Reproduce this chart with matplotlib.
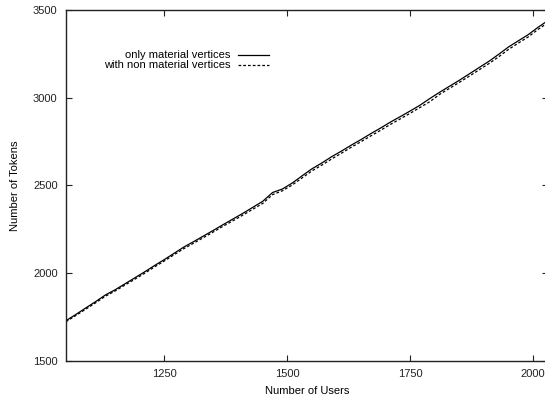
import numpy as np
import matplotlib
matplotlib.use("Agg")
import matplotlib.pyplot as plt
from matplotlib.lines import Line2D

users = [1050, 1070, 1090, 1110, 1130, 1150, 1170, 1190, 1210, 1230,
         1250, 1270, 1290, 1310, 1330, 1350, 1370, 1390, 1410, 1430,
         1450, 1470, 1490, 1510, 1530, 1550, 1570, 1590, 1610, 1630,
         1650, 1670, 1690, 1710, 1730, 1750, 1770, 1790, 1810, 1830,
         1850, 1870, 1890, 1910, 1930, 1950, 1970, 1990, 2010, 2030]

only_material = [1730, 1765, 1802, 1838, 1876, 1906, 1940, 1974, 2008, 2044,
                 2078, 2114, 2150, 2181, 2213, 2245, 2278, 2310, 2342, 2376,
                 2410, 2460, 2480, 2514, 2555, 2595, 2628, 2664, 2696, 2730,
                 2762, 2796, 2828, 2862, 2893, 2925, 2958, 2996, 3032, 3066,
                 3100, 3136, 3172, 3208, 3248, 3290, 3325, 3360, 3402, 3440]

with_non_material = [1724, 1759, 1795, 1831, 1869, 1899, 1933, 1966, 2000, 2036,
                     2070, 2106, 2141, 2172, 2204, 2236, 2269, 2300, 2332, 2365,
                     2398, 2448, 2470, 2503, 2543, 2583, 2616, 2651, 2684, 2718,
                     2750, 2783, 2815, 2849, 2880, 2912, 2945, 2978, 3020, 3054,
                     3088, 3123, 3159, 3195, 3234, 3276, 3312, 3347, 3390, 3428]

series_labels = ["only material vertices", "with non material vertices"]
x_ticks = [1250, 1500, 1750, 2000]
y_ticks = [1500, 2000, 2500, 3000, 3500]

plt.rcParams['font.family'] = ['Liberation Sans', 'DejaVu Sans']
fig = plt.figure(figsize=(5.45, 3.96), dpi=100)
ax = fig.add_axes([66/545, 35/396, 482/545, 351/396])

ax.plot(users, only_material, color='black', lw=0.9, linestyle='-')
ax.plot(users, with_non_material, color='black', lw=0.9, linestyle=(0, (2.2, 1.6)))

ax.set_xlim(1050, 2030)
ax.set_ylim(1500, 3500)
ax.set_xticks(x_ticks)
ax.set_yticks(y_ticks)
ax.tick_params(direction='in', length=4, width=0.8, labelsize=8,
               top=True, right=True, pad=6, colors='#222222')
for s in ax.spines.values():
    s.set_linewidth(1.0)
    s.set_color('#222222')

ax.set_xlabel("Number of Users", fontsize=8, labelpad=4.5)
ax.set_ylabel("Number of Tokens", fontsize=8, labelpad=9.5)

# legend (gnuplot-style, text right-aligned, sample on the right)
styles = ['-', (0, (2.2, 1.6))]
for i, (lab, ls) in enumerate(zip(series_labels, styles)):
    yy = 0.871 - i * 0.028
    ax.text(0.342, yy, lab, transform=ax.transAxes, ha='right', va='center', fontsize=8)
    ax.add_line(Line2D([0.357, 0.421], [yy, yy], transform=ax.transAxes,
                       color='black', lw=0.9, linestyle=ls))

fig.savefig("out.png", dpi=100)
